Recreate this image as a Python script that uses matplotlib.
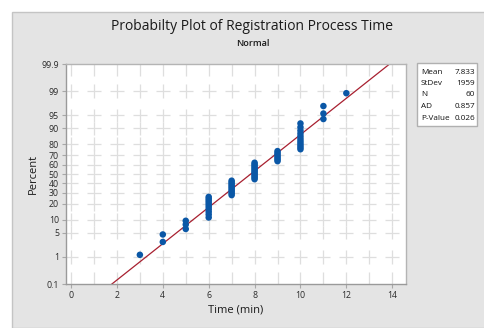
from statistics import NormalDist

import matplotlib
matplotlib.use("Agg")
import matplotlib.pyplot as plt
import numpy as np
from matplotlib.patches import Rectangle

plt.rcParams["font.family"] = ["Open Sans", "DejaVu Sans"]

# registration times (min) and how many of the 60 observations took each value
times = [3, 4, 5, 6, 7, 8, 9, 10, 11, 12]
counts = [1, 2, 3, 10, 10, 12, 7, 11, 3, 1]

x_ticks = [0, 2, 4, 6, 8, 10, 12, 14]
pct_ticks = [0.1, 1, 5, 10, 20, 30, 40, 50, 60, 70, 80, 90, 95, 99, 99.9]
pct_labels = ["0.1", "1", "5", "10", "20", "30", "40", "50", "60", "70", "80", "90", "95", "99", "99.9"]

stats_names = ["Mean", "StDev", "N", "AD", "P-Value"]
stats_values = ["7.833", "1959", "60", "0.857", "0.026"]

nd = NormalDist()
data = np.repeat(times, counts).astype(float)
n = len(data)
ranks = np.arange(1, n + 1)
# Minitab median ranks
pos = [nd.inv_cdf(p) for p in (ranks - 0.3) / (n + 0.4)]
mean, sd = data.mean(), data.std(ddof=1)

z_ticks = [nd.inv_cdf(p / 100) for p in pct_ticks]
zmin, zmax = z_ticks[0], z_ticks[-1]

fig = plt.figure(figsize=(4.84, 3.28), dpi=100, facecolor="white")
bg = Rectangle((12 / 484, 0), 1, 1 - 12 / 328, transform=fig.transFigure,
               facecolor="#e4e4e4", edgecolor="#c4c4c4", lw=1.0, zorder=-5)
fig.patches.append(bg)

ax = fig.add_axes([66 / 484, 44 / 328, 340 / 484, 220 / 328])
ax.set_zorder(1)
ax.set_facecolor("white")
ax.set_xlim(-0.22, 14.6)
ax.set_ylim(zmin, zmax)

# Minitab-style broken grid: little crosses at each intersection
grid_kw = dict(color="#dedede", lw=0.9, zorder=1, solid_capstyle="butt")
x_grid = np.arange(0, 15)
for xv in x_grid:
    for zv in z_ticks[1:-1]:
        ax.plot([xv - 0.3, xv + 0.3], [zv, zv], **grid_kw)
        ax.plot([xv, xv], [zv - 0.19, zv + 0.19], **grid_kw)
    ax.plot([xv, xv], [zmax - 0.34, zmax], **grid_kw)
    ax.plot([xv, xv], [zmin, zmin + 0.34], **grid_kw)

zl = np.linspace(zmin, zmax, 50)
ax.plot(mean + sd * zl, zl, color="#a82030", lw=0.9, zorder=2)
ax.scatter(data, pos, s=22, color="#0a57a6", edgecolors="none", zorder=3)

ax.set_xticks(x_ticks)
ax.set_yticks(z_ticks)
ax.set_yticklabels(pct_labels)
ax.tick_params(axis="both", labelsize=6.3, length=3, width=0.8, color="#a8a8a8",
               pad=2, labelcolor="#2a2a2a")
for s in ax.spines.values():
    s.set_color("#b4b4b4")
    s.set_linewidth(1.0)
ax.spines["left"].set_color("#9a9a9a")
ax.spines["bottom"].set_color("#9a9a9a")

ax.set_xlabel("Time (min)", fontsize=8, color="#1a1a1a", labelpad=3)
ax.set_ylabel("Percent", fontsize=8, color="#1a1a1a", labelpad=2)

fig.text(252 / 484, 1 - 26 / 328, "Probabilty Plot of Registration Process Time",
         ha="center", va="center", fontsize=10, color="#1a1a1a")
fig.text(253 / 484, 1 - 43 / 328, "Normal", ha="center", va="center",
         fontsize=6.6, color="#1a1a1a", fontweight="semibold")

# stats box
fig.patches.append(Rectangle((417 / 484, 1 - 126 / 328), 60 / 484, 63 / 328,
                             transform=fig.transFigure, facecolor="white",
                             edgecolor="#b0b0b0", lw=1.0, zorder=2))
for i, (name, val) in enumerate(zip(stats_names, stats_values)):
    yy = 1 - (72 + i * 11.5) / 328
    fig.text(421 / 484, yy, name, ha="left", va="center", fontsize=5.9, color="#111111", zorder=3)
    fig.text(475 / 484, yy, val, ha="right", va="center", fontsize=5.9, color="#111111", zorder=3)

fig.savefig("out.png", dpi=100, facecolor=fig.get_facecolor())
